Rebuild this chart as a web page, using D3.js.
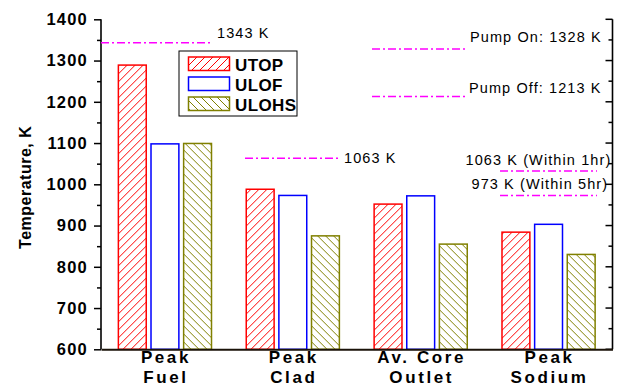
<!DOCTYPE html>
<html>
<head>
<meta charset="utf-8">
<script src="https://cdn.jsdelivr.net/npm/d3@7"></script>
<style>
  body { margin: 0; background: #fff; }
  svg { display: block; font-family: "Liberation Sans", Arial, sans-serif; }
</style>
</head>
<body>
<svg id="chart" width="617" height="389"></svg>
<script>
// Chart data
const categories = ["Peak Fuel", "Peak Clad", "Av. Core Outlet", "Peak Sodium"];
const categoryLines = [["Peak", "Fuel"], ["Peak", "Clad"], ["Av. Core", "Outlet"], ["Peak", "Sodium"]];
const seriesNames = ["UTOP", "ULOF", "ULOHS"];
const utop = [1289, 988, 952, 884];
const ulof = [1098, 973, 972, 903];
const ulohs = [1099, 875, 855, 830];
const yTicks = [600, 700, 800, 900, 1000, 1100, 1200, 1300, 1400];

// Limit lines (value in K) and their labels
const limitValues = [1343, 1328, 1213, 1063, 1032, 973];
const limitLabels = ["1343 K", "Pump On: 1328 K", "Pump Off: 1213 K", "1063 K",
                     "1063 K (Within 1hr)", "973 K (Within 5hr)"];

const seriesValues = [utop, ulof, ulohs];

// Layout
const margin = {top: 19.3, right: 4.5, bottom: 39.7, left: 101},
      width = 617 - margin.left - margin.right,
      height = 389 - margin.top - margin.bottom;

const svg = d3.select("#chart");
const g = svg.append("g").attr("transform", `translate(${margin.left},${margin.top})`);

// hatch patterns
const defs = svg.append("defs");
const p1 = defs.append("pattern").attr("id", "hatchUp")
    .attr("patternUnits", "userSpaceOnUse").attr("width", 8).attr("height", 8);
p1.append("path").attr("d", "M-2,2 L2,-2 M0,8 L8,0 M6,10 L10,6")
    .attr("stroke", "#ff0000").attr("stroke-width", 1);
const p2 = defs.append("pattern").attr("id", "hatchDown")
    .attr("patternUnits", "userSpaceOnUse").attr("width", 8).attr("height", 8);
p2.append("path").attr("d", "M-2,6 L2,10 M0,0 L8,8 M6,-2 L10,2")
    .attr("stroke", "#808000").attr("stroke-width", 1);

const colors = ["#ff0000", "#0000ff", "#808000"];
const fills = ["url(#hatchUp)", "#ffffff", "url(#hatchDown)"];

// scales
const x0 = d3.scaleBand()
    .domain(categories)
    .range([0, width])
    .paddingInner(0.26)
    .paddingOuter(0.13);

const x1 = d3.scaleBand()
    .domain(seriesNames)
    .range([0, x0.bandwidth()])
    .paddingInner(0.1)
    .paddingOuter(0);

const y = d3.scaleLinear()
    .domain([600, 1400])
    .range([height, 0]);

const minorTicks = d3.range(650, 1400, 100);

// bars
seriesNames.forEach((s, si) => {
    g.selectAll(".bar-" + s)
        .data(seriesValues[si])
        .enter()
        .append("rect")
        .attr("x", (d, i) => x0(categories[i]) + x1(s) + 0.75)
        .attr("y", d => y(d))
        .attr("width", x1.bandwidth() - 1.5)
        .attr("height", d => y(600) - y(d))
        .attr("fill", fills[si])
        .attr("stroke", colors[si])
        .attr("stroke-width", 1.5);
});

// left axis
const leftAxis = g.append("g")
    .call(d3.axisLeft(y).tickValues(yTicks).tickSize(7).tickPadding(6).tickFormat(d3.format("d")));
leftAxis.select(".domain").attr("d", `M0,${height}V0`).attr("stroke-width", 1.6);
leftAxis.selectAll(".tick line").attr("stroke-width", 1.5);
leftAxis.selectAll("text")
    .attr("font-size", 16.5)
    .attr("font-weight", "bold")
    .attr("letter-spacing", 1.2)
    .attr("fill", "#000");
g.append("g")
    .call(d3.axisLeft(y).tickValues(minorTicks).tickSize(4).tickFormat(""))
    .call(a => a.select(".domain").remove())
    .selectAll(".tick line").attr("stroke-width", 1.5);

// right axis (ticks inward)
const rTicks = g.append("g").attr("transform", `translate(${width},0)`);
rTicks.append("path")
    .attr("d", `M0,${height}V0`)
    .attr("stroke", "#000").attr("stroke-width", 1.6);
rTicks.selectAll(".maj").data(yTicks).enter().append("line")
    .attr("x1", -7).attr("x2", 0)
    .attr("y1", d => y(d)).attr("y2", d => y(d))
    .attr("stroke", "#000").attr("stroke-width", 1.5);
rTicks.selectAll(".min").data(minorTicks).enter().append("line")
    .attr("x1", -4).attr("x2", 0)
    .attr("y1", d => y(d)).attr("y2", d => y(d))
    .attr("stroke", "#000").attr("stroke-width", 1.5);

// bottom axis
const bottomAxis = g.append("g")
    .attr("transform", `translate(0,${height})`)
    .call(d3.axisBottom(x0).tickSize(0).tickFormat(""));
bottomAxis.select(".domain").attr("stroke-width", 2).attr("stroke", "#1a1208");

// category labels (two lines)
const catLabels = g.append("g");
categoryLines.forEach((lines, i) => {
    const cx = x0(categories[i]) + x0.bandwidth() / 2 + 1;
    lines.forEach((l, li) => {
        catLabels.append("text")
            .attr("x", cx)
            .attr("y", height + 14 + li * 20)
            .attr("text-anchor", "middle")
            .attr("font-size", 17)
            .attr("font-weight", "bold")
            .attr("letter-spacing", 2.6)
            .text(l);
    });
});

// y axis label
g.append("text")
    .attr("transform", "rotate(-90)")
    .attr("x", -height / 2 - 3)
    .attr("y", -margin.left + 31)
    .attr("text-anchor", "middle")
    .attr("font-size", 16)
    .attr("font-weight", "bold")
    .attr("letter-spacing", 0.5)
    .text("Temperature, K");

// limit lines: [x start, x end] in plot px and label placement
const limitLayout = [
    {x0: 0, x1: 109, lx: 116, ly: 38.5},
    {x0: 271, x1: 367, lx: 369, ly: 42},
    {x0: 271, x1: 367, lx: 368, ly: 93},
    {x0: 144, x1: 237, lx: 243, ly: 163},
    {x0: 399, x1: 496, lx: 364.5, ly: 165.5},
    {x0: 399, x1: 496, lx: 370.5, ly: 189}
];

const limits = g.append("g");
limitValues.forEach((v, i) => {
    const L = limitLayout[i];
    limits.append("line")
        .attr("x1", L.x0).attr("x2", L.x1)
        .attr("y1", y(v)).attr("y2", y(v))
        .attr("stroke", "#ff00ff")
        .attr("stroke-width", 1.5)
        .attr("stroke-dasharray", "8,3,2,3");
    limits.append("text")
        .attr("x", L.lx)
        .attr("y", L.ly - margin.top)
        .attr("font-size", 14.5)
        .attr("letter-spacing", 1.1)
        .attr("fill", "#000")
        .text(limitLabels[i]);
});

// legend
const legend = svg.append("g").attr("transform", "translate(179,51)");
legend.append("rect")
    .attr("width", 118).attr("height", 65)
    .attr("fill", "#fff").attr("stroke", "#000").attr("stroke-width", 1);
seriesNames.forEach((s, si) => {
    legend.append("rect")
        .attr("x", 9.5).attr("y", 6 + si * 20)
        .attr("width", 41).attr("height", 13.5)
        .attr("fill", fills[si])
        .attr("stroke", colors[si])
        .attr("stroke-width", 1.5);
    legend.append("text")
        .attr("x", 56).attr("y", 19.5 + si * 20)
        .attr("font-size", 17)
        .attr("font-weight", "bold")
        .attr("letter-spacing", 0.4)
        .text(s);
});
</script>
</body>
</html>
